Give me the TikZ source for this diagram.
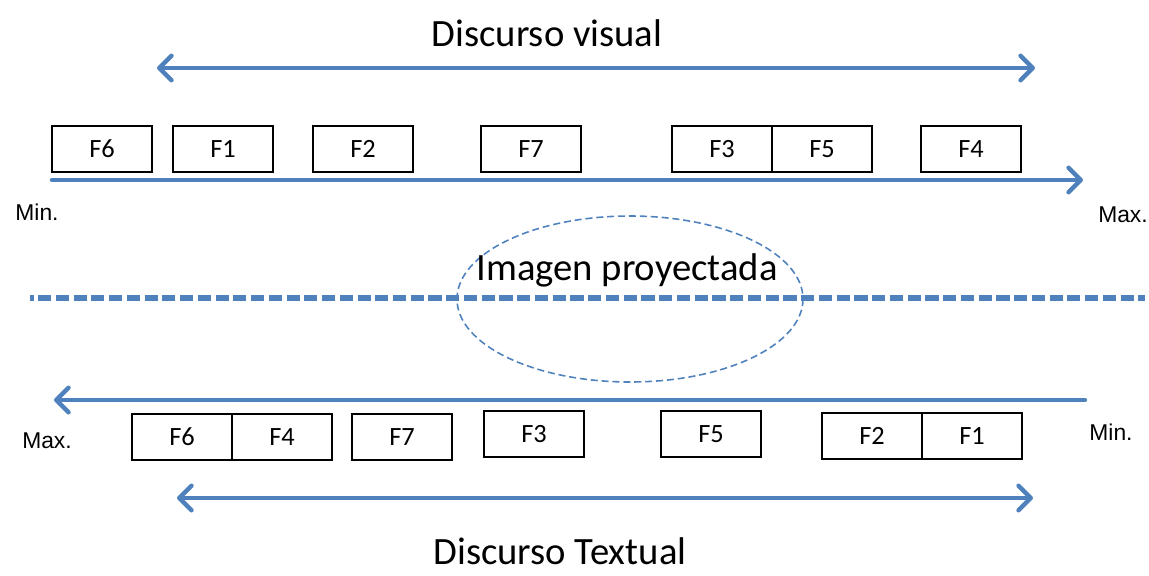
\documentclass[tikz,border=0pt]{standalone}
\usepackage{fontspec}
\setmainfont{Carlito}
\newfontfamily\arialfont{Liberation Sans}
\usetikzlibrary{arrows.meta,positioning}
\definecolor{ofblue}{RGB}{79,129,189}
\tikzset{
  fbox/.style={draw,line width=0.8pt,minimum width=2cm,minimum height=0.92cm,inner sep=0pt,outer sep=0pt,font=\fontsize{15}{17}\selectfont},
  bigtext/.style={inner sep=0pt,font=\fontsize{22}{26}\selectfont},
  endlabel/.style={font=\arialfont\fontsize{13}{15}\selectfont},
  bluearrow/.style={draw=ofblue,line width=2.5pt,line cap=round},
  tip/.tip={Straight Barb[length=7pt,width=14pt,round]}
}
\begin{document}
\begin{tikzpicture}[x=0.02cm,y=-0.02cm]
\useasboundingbox (0,0) rectangle (1149,575);
% top: discurso visual
\node[bigtext] (dvisual) at (547,33) {Discurso visual};
\coordinate (dva) at (157,68);
\coordinate (dvb) at (1035,68);
\draw[bluearrow,tip-tip] (dva)--(dvb);
\node[fbox] (f6a) at (102,149) {F6};
\node[fbox] (f1a) at (223,149) {F1};
\node[fbox] (f2a) at (363,149) {F2};
\node[fbox] (f7a) at (531,149) {F7};
\node[fbox] (f3a) at (722,149) {F3};
\node[fbox,right=0pt of f3a] (f5a) {F5};
\node[fbox] (f4a) at (971,149) {F4};
\coordinate (axa) at (52,180);
\coordinate (axb) at (1083,180);
\draw[bluearrow,-tip] (axa)--(axb);
\node[endlabel] (mina) at (37,212) {Min.};
\node[endlabel] (maxa) at (1123,215) {Max.};
% middle
\coordinate (mida) at (30,298);
\coordinate (midb) at (1145,298);
\draw[draw=ofblue,line width=3.1pt,dash pattern=on 7.5pt off 2.6pt,dash phase=5.5pt] (mida)--(midb);
\draw[draw=ofblue,line width=0.9pt,dash pattern=on 4pt off 2.2pt] (630,299) ellipse (173 and 83);
\node[bigtext] (imagen) at (627,270) {Imagen proyectada};
% bottom: discurso textual
\coordinate (axc) at (1085,400);
\coordinate (axd) at (54,400);
\draw[bluearrow,-tip] (axc)--(axd);
\node[endlabel] (maxb) at (47,441) {Max.};
\node[endlabel] (minb) at (1111,432) {Min.};
\node[fbox] (f6b) at (182,437) {F6};
\node[fbox,right=0pt of f6b] (f4b) {F4};
\node[fbox] (f7b) at (402,437) {F7};
\node[fbox] (f3b) at (534,434) {F3};
\node[fbox] (f5b) at (711,434) {F5};
\node[fbox] (f2b) at (872,436) {F2};
\node[fbox,right=0pt of f2b] (f1b) {F1};
\coordinate (dta) at (177,498);
\coordinate (dtb) at (1033,498);
\draw[bluearrow,tip-tip] (dta)--(dtb);
\node[bigtext] (dtextual) at (560,551) {Discurso Textual};
\end{tikzpicture}
\end{document}
